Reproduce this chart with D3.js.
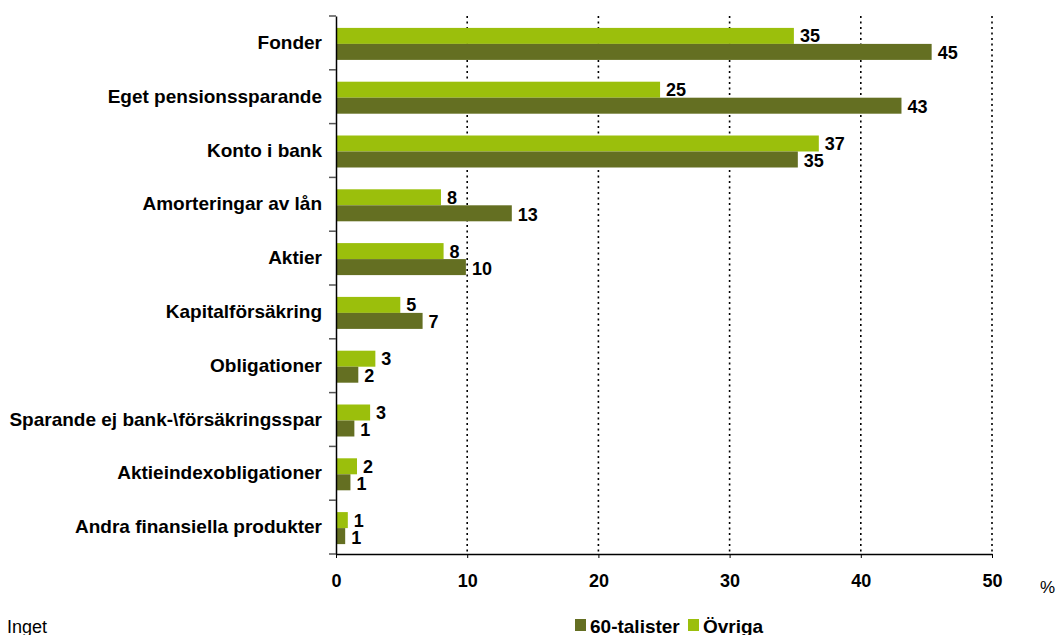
<!DOCTYPE html>
<html>
<head>
<meta charset="utf-8">
<script src="https://cdn.jsdelivr.net/npm/d3@7"></script>
<style>
  body { margin: 0; background: #fff; }
  svg { font-family: "Liberation Sans", Arial, sans-serif; }
</style>
</head>
<body>
<div id="chart"></div>
<script>
// categories, top to bottom
var categories = ["Fonder", "Eget pensionssparande", "Konto i bank", "Amorteringar av lån",
  "Aktier", "Kapitalförsäkring", "Obligationer", "Sparande ej bank-\\försäkringsspar",
  "Aktieindexobligationer", "Andra finansiella produkter"];

// series values (%)
var ovriga = [34.9, 24.7, 36.8, 8.0, 8.2, 4.9, 3.0, 2.6, 1.6, 0.9];
var sextiotalister = [45.4, 43.1, 35.2, 13.4, 9.9, 6.6, 1.7, 1.4, 1.1, 0.7];

var seriesNames = ["60-talister", "Övriga"];
var xTicks = [0, 10, 20, 30, 40, 50];

var colDark = "#646f22", colLight = "#9bbf0c";

var W = 1058, H = 635;
var margin = {top: 16, right: 66, bottom: 81, left: 336};
var width = W - margin.left - margin.right,
    height = H - margin.top - margin.bottom;

var svg = d3.select("#chart").append("svg")
    .attr("width", W).attr("height", H);
var g = svg.append("g")
    .attr("transform", "translate(" + margin.left + "," + margin.top + ")");

var x = d3.scaleLinear().domain([0, 50]).range([0, width]);
var y = d3.scaleBand().domain(categories).range([0, height]);

// dotted gridlines
g.selectAll(".grid").data(xTicks.slice(1)).enter().append("line")
    .attr("x1", d => x(d)).attr("x2", d => x(d))
    .attr("y1", 0).attr("y2", height)
    .attr("stroke", "#000").attr("stroke-width", 1.6)
    .attr("stroke-dasharray", "2,3.5");

var barH = 16;
var rows = categories.map((c, i) => ({cat: c, light: ovriga[i], dark: sextiotalister[i]}));
var fmt = d3.format(".0f");

var row = g.selectAll(".row").data(rows).enter().append("g")
    .attr("transform", d => "translate(0," + (y(d.cat) + y.bandwidth() / 2 - barH + 1) + ")");

row.append("rect")
    .attr("x", 0).attr("y", 0)
    .attr("width", d => x(d.light)).attr("height", barH)
    .attr("fill", colLight);
row.append("rect")
    .attr("x", 0).attr("y", barH)
    .attr("width", d => x(d.dark)).attr("height", barH)
    .attr("fill", colDark);

row.append("text")
    .attr("x", d => x(d.light) + 6).attr("y", barH / 2)
    .attr("dy", "0.36em")
    .style("font-size", "18px").style("font-weight", "bold")
    .text(d => fmt(d.light));
row.append("text")
    .attr("x", d => x(d.dark) + 6).attr("y", barH * 1.5 + 1)
    .attr("dy", "0.36em")
    .style("font-size", "18px").style("font-weight", "bold")
    .text(d => fmt(d.dark));

// y axis
var yAxis = g.append("g")
    .call(d3.axisLeft(y).tickSize(0).tickPadding(14));
yAxis.select(".domain").attr("stroke", "#000").attr("stroke-width", 1.5);
yAxis.selectAll("text").style("font-size", "19px").style("font-weight", "bold").attr("fill", "#000");
// category boundary ticks
var bounds = categories.map(c => y(c)).concat([height]);
g.selectAll(".btick").data(bounds).enter().append("line")
    .attr("x1", -7).attr("x2", 0)
    .attr("y1", d => d).attr("y2", d => d)
    .attr("stroke", "#555").attr("stroke-width", 1.5);

// x axis
var xAxis = g.append("g")
    .attr("transform", "translate(0," + height + ")")
    .call(d3.axisBottom(x).tickValues(xTicks).tickSize(4).tickPadding(16).tickSizeOuter(0));
xAxis.select(".domain").attr("stroke", "#000").attr("stroke-width", 1.5);
xAxis.selectAll("line").attr("stroke", "#000");
xAxis.selectAll("text").style("font-size", "18px").style("font-weight", "bold").attr("fill", "#000");

svg.append("text")
    .attr("x", 1040).attr("y", 593)
    .style("font-size", "17px")
    .text("%");

// legend
var legend = svg.append("g").attr("transform", "translate(575,619)");
var items = [{name: seriesNames[0], col: colDark, x: 0}, {name: seriesNames[1], col: colLight, x: 113}];
items.forEach(function(it) {
  legend.append("rect").attr("x", it.x).attr("y", 0).attr("width", 11).attr("height", 12).attr("fill", it.col);
  legend.append("text").attr("x", it.x + 15).attr("y", 14)
    .style("font-size", "19px").style("font-weight", "bold")
    .text(it.name);
});

svg.append("text")
    .attr("x", 7).attr("y", 633)
    .style("font-size", "18px")
    .text("Inget");
</script>
</body>
</html>
